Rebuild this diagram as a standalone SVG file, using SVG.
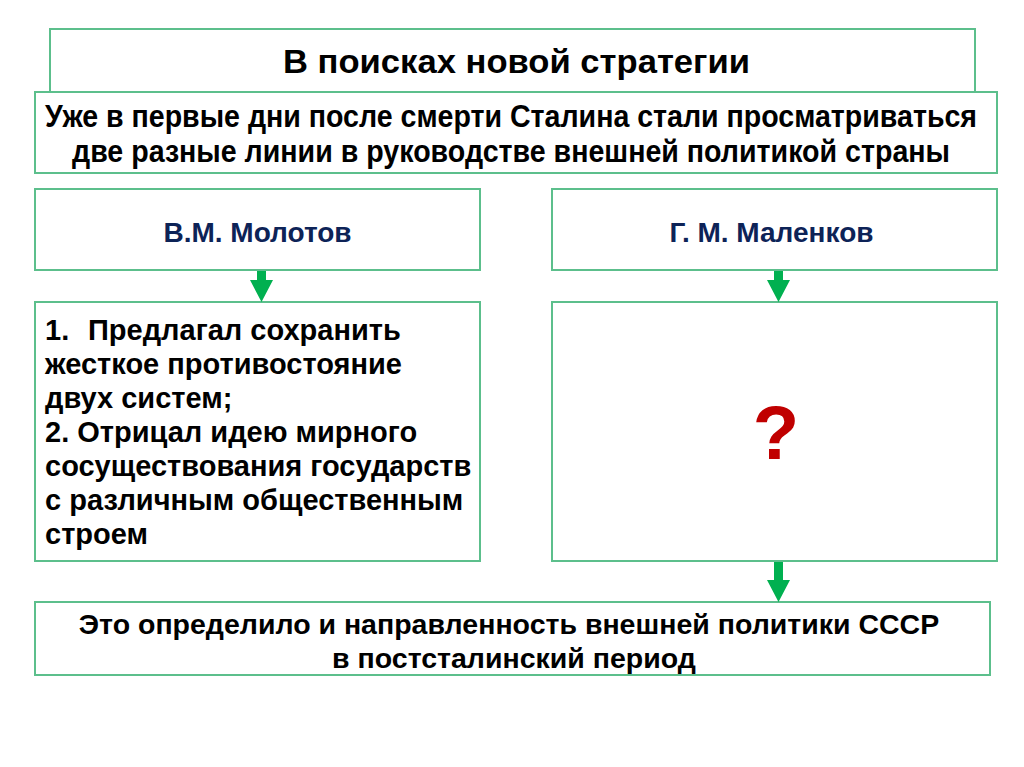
<svg xmlns="http://www.w3.org/2000/svg" width="1024" height="767" viewBox="0 0 1024 767">
<style>
.box{fill:#fff;stroke:#5cbf8c;stroke-width:2}
.arr{fill:#00b050}
.cond{font-family:"Liberation Sans",Arial,sans-serif;font-weight:bold;fill:#000}
.t{font-family:"Liberation Sans",Arial,sans-serif;font-weight:bold;fill:#000}
.name{font-family:"Liberation Sans",Arial,sans-serif;font-weight:bold;fill:#0d2357;font-size:28px}
</style>
<rect width="1024" height="767" fill="#fff"/>
<g id="title">
<rect class="box" x="50" y="29" width="925" height="63"/>
<text class="cond" transform="translate(0,73) scale(1,1.12)" x="283" y="0" font-size="30" textLength="467" lengthAdjust="spacingAndGlyphs">В поисках новой стратегии</text>
</g>
<g id="intro">
<rect class="box" x="35" y="92" width="962" height="81"/>
<text class="cond" transform="translate(0,127) scale(1,1.12)" x="45" y="0" font-size="28" textLength="932" lengthAdjust="spacingAndGlyphs">Уже в первые дни после смерти Сталина стали просматриваться</text>
<text class="cond" transform="translate(0,162) scale(1,1.12)" x="72" y="0" font-size="28" textLength="878" lengthAdjust="spacingAndGlyphs">две разные линии в руководстве внешней политикой страны</text>
</g>
<g id="molotov">
<rect class="box" x="35" y="189" width="445" height="81"/>
<text class="name" x="257.5" y="242" text-anchor="middle">В.М. Молотов</text>
</g>
<g id="malenkov">
<rect class="box" x="552" y="189" width="445" height="81"/>
<text class="name" x="771.5" y="242" text-anchor="middle">Г. М. Маленков</text>
</g>
<g id="molotov-policy">
<rect class="box" x="35" y="302" width="445" height="259"/>
<g class="t" font-size="29">
<text x="45" y="340">1.<tspan x="88">Предлагал сохранить</tspan></text>
<text x="45" y="374">жесткое противостояние</text>
<text x="45" y="408">двух систем;</text>
<text x="45" y="442">2. Отрицал идею мирного</text>
<text x="45" y="476">сосуществования государств</text>
<text x="45" y="510">с различным общественным</text>
<text x="45" y="544">строем</text>
</g>
</g>
<g id="malenkov-policy">
<rect class="box" x="552" y="302" width="445" height="259"/>
<text x="776" y="459" font-family="Liberation Sans,Arial,sans-serif" font-weight="bold" font-size="76" fill="#c00000" text-anchor="middle">?</text>
</g>
<g id="conclusion">
<rect class="box" x="35" y="602" width="955" height="73"/>
<text class="t" x="509" y="634" font-size="28.5" text-anchor="middle">Это определило и направленность внешней политики СССР</text>
<text class="t" x="514" y="668" font-size="28.5" text-anchor="middle">в постсталинский период</text>
</g>
<g id="connectors">
<polygon class="arr" points="257,271 266,271 266,280 273,280 261.5,302 250,280 257,280"/>
<polygon class="arr" points="774,271 783,271 783,280 790,280 778.5,302 767,280 774,280"/>
<polygon class="arr" points="774,562 783,562 783,580 790,580 778.5,602 767,580 774,580"/>
</g>
</svg>
